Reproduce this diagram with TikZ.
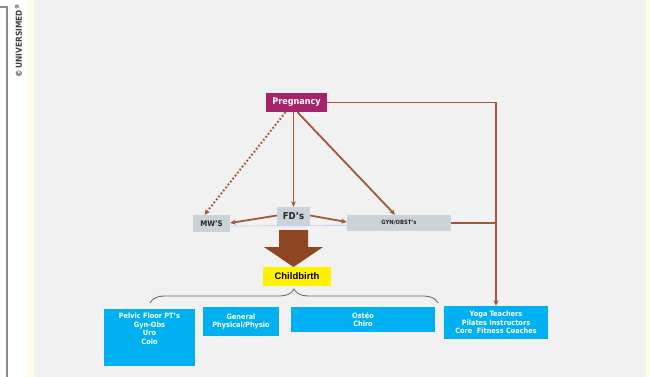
\documentclass[tikz,border=0pt]{standalone}
\usepackage{fontspec}
\setmainfont{DejaVu Sans}
\newfontfamily\condf{DejaVu Sans Condensed}
\newfontfamily\arialf{Liberation Sans}
\usetikzlibrary{arrows.meta,decorations.pathreplacing,shapes.arrows}
\definecolor{bggray}{HTML}{F1F1F1}
\definecolor{stripyellow}{HTML}{FFFBE6}
\definecolor{pregcol}{HTML}{A5236B}
\definecolor{graybox}{HTML}{CAD3D8}
\definecolor{brownline}{HTML}{A0583A}
\definecolor{bigbrown}{HTML}{8E4622}
\definecolor{bluebox}{HTML}{00B0F0}
\definecolor{bracegray}{HTML}{6E6E6E}
\definecolor{framegray}{HTML}{8C8C8C}
\tikzset{
  gbox/.style={fill=graybox, draw=none, inner sep=0pt, text=black!85, font=\condf\bfseries},
  bbox/.style={fill=bluebox, draw=none, inner sep=0pt},
  btext/.style={text=white, font=\condf\bfseries\fontsize{7.3}{8.6}\selectfont, align=center, inner sep=0pt},
  conn/.style={draw=brownline, line width=1.8pt, -{Stealth[length=5.5pt,width=5pt]}},
  plain/.style={draw=brownline, line width=1.8pt}
}
\begin{document}
\begin{tikzpicture}[x=1pt,y=-1pt]
\useasboundingbox (0,0) rectangle (650,377);
\fill[white] (0,0) rectangle (650,377);
\fill[stripyellow] (28,0) rectangle (34,377);
\fill[bggray] (34,0) rectangle (646,377);
\fill[stripyellow] (646,0) rectangle (650,377);
\draw[framegray, line width=1.2pt] (0,7) -- (7,7) -- (7,377);
\node[rotate=90, anchor=east, font=\condf\bfseries\fontsize{8.3}{9}\selectfont, text=black!75, inner sep=0pt] (copy) at (18.5,4) {©\,UNIVERSIMED\textsuperscript{®}};

% nodes
\node[fill=pregcol, text=white, font=\condf\bfseries\fontsize{9}{9}\selectfont, minimum width=61, minimum height=19, inner sep=0pt] (preg) at (296.5,102.5) {Pregnancy};
\node[gbox, minimum width=37, minimum height=17, font=\condf\bfseries\fontsize{7.8}{8}\selectfont] (mw) at (211.5,223.5) {MW’S};
\node[gbox, minimum width=33, minimum height=19, font=\condf\bfseries\fontsize{9.5}{10}\selectfont] (fd) at (293.5,216.5) {FD’s};
\node[gbox, minimum width=104, minimum height=16, font=\condf\bfseries\fontsize{5.8}{6}\selectfont] (gyn) at (399,223) {GYN/OBST’s};
\node[fill=yellow, minimum width=68, minimum height=19, inner sep=0pt, font=\arialf\bfseries\fontsize{9.5}{10}\selectfont] (child) at (297,276.5) {Childbirth};

% big arrow
\fill[bigbrown] (279,230) -- (308,230) -- (308,247) -- (323,247) -- (293.5,267) -- (264,247) -- (279,247) -- cycle;

% blue boxes
\node[bbox, minimum width=91, minimum height=57] (pelvic) at (149.5,337.5) {};
\node[btext, anchor=north] (pelvict) at ([yshift=-4]pelvic.north) {Pelvic Floor PT’s\\Gyn-Obs\\Uro\\Colo};
\node[bbox, minimum width=76, minimum height=29, btext] (general) at (241,321.5) {General\\Physical/Physio};
\node[bbox, minimum width=144, minimum height=25, btext] (osteo) at (363,319.5) {Ostéo\\Chiro};
\node[bbox, minimum width=104, minimum height=33, btext] (yoga) at (496,322.5) {Yoga Teachers\\Pilates Instructors\\Core~ Fitness Coaches};

% brace
\draw[bracegray, line width=0.9pt, decorate, decoration={brace, amplitude=14pt}] (150,303) -- (438,303);

% connectors
\draw[graybox!80!blue!60, line width=0.7pt] ([yshift=-2.5]mw.east) -- ([yshift=-2.5]gyn.west);
\draw[conn] (preg.south -| fd.north) -- (fd.north);
\draw[conn, dotted, line width=1.9pt] ([xshift=-11]preg.south) -- ([xshift=-7]mw.north);
\draw[conn] ([xshift=1]preg.south) -- ([xshift=-4]gyn.north);
\draw[conn] ([yshift=1]fd.west) -- ([yshift=0.5]mw.east);
\draw[conn] ([yshift=1]fd.east) -- ([yshift=1]gyn.west);
\draw[conn] (preg.east) -| (yoga.north);
\draw[plain] (gyn.east) -- (gyn.east -| yoga.north);
\end{tikzpicture}
\end{document}
